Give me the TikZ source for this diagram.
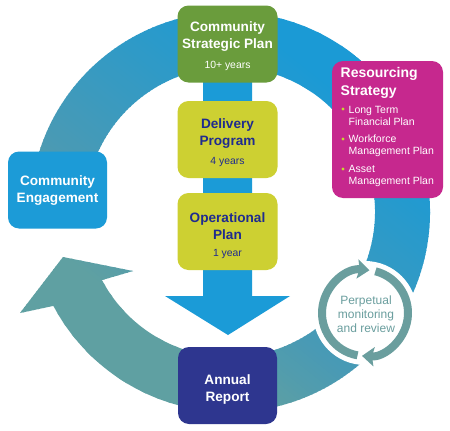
\documentclass[tikz,border=0pt]{standalone}
\usepackage{fontspec}
\setmainfont{Liberation Sans}
\usetikzlibrary{calc,arrows.meta}
\definecolor{ringtop}{HTML}{1B9AD5}
\definecolor{ringmid}{HTML}{4A9AB4}
\definecolor{ringbot}{HTML}{5FA0A2}
\definecolor{arrowblue}{HTML}{1B9BD7}
\definecolor{cspgreen}{HTML}{6A9C3C}
\definecolor{planyellow}{HTML}{CDD032}
\definecolor{navytext}{HTML}{1F2B8F}
\definecolor{ceblue}{HTML}{1C9BD7}
\definecolor{resmag}{HTML}{C6288E}
\definecolor{arnavy}{HTML}{2E368F}
\definecolor{bulletc}{HTML}{C5D82E}
\definecolor{perpteal}{HTML}{6A9E9E}
\begin{document}
\begin{tikzpicture}[x=1pt,y=-1pt,
  box/.style={rounded corners=11pt, minimum width=100pt, minimum height=77pt, inner sep=0pt},
  ttl/.style={inner sep=0pt, align=center, font=\fontsize{13.6}{17}\selectfont\bfseries},
  subtxt/.style={inner sep=0pt, font=\fontsize{10.4}{12}\selectfont},
  item/.style={inner sep=0pt, anchor=west, align=left, text=white, font=\fontsize{10.5}{12}\selectfont},
  bul/.style={circle, fill=bulletc, inner sep=0pt, minimum size=3.4pt},
  perparc/.style={draw=perpteal, line width=8pt, -{Stealth[length=12pt,width=19pt,inset=2pt]}}
]
\useasboundingbox (0,0) rectangle (450,431);
\fill[white] (0,0) rectangle (450,431);
\coordinate (C) at (230,212);
\coordinate (P) at (365,313);

% big cycle ring with arrowhead, shaded from teal (lower left) to blue (upper right)
\begin{scope}
\clip ($(C)+(-170:200)$) arc[start angle=-170,end angle=152,radius=200]
  -- (20,313) -- (63,257) -- (133,271)
  -- ($(C)+(152:145)$) arc[start angle=152,end angle=-170,radius=145] -- cycle;
\foreach \s in {-240,-236,...,240}{
  \pgfmathsetmacro\tA{min(100,max(0,(\s+140)/80*100))}
  \pgfmathsetmacro\tB{min(100,max(0,(\s+60)/220*100))}
  \colorlet{tmpA}{ringmid!\tA!ringbot}
  \colorlet{stripc}{ringtop!\tB!tmpA}
  \pgfmathsetmacro\xa{230+\s*0.62+300*0.78}
  \pgfmathsetmacro\ya{212-\s*0.78+300*0.62}
  \pgfmathsetmacro\xb{230+\s*0.62-300*0.78}
  \pgfmathsetmacro\yb{212-\s*0.78-300*0.62}
  \pgfmathsetmacro\xc{230+(\s+5)*0.62-300*0.78}
  \pgfmathsetmacro\yc{212-(\s+5)*0.78-300*0.62}
  \pgfmathsetmacro\xd{230+(\s+5)*0.62+300*0.78}
  \pgfmathsetmacro\yd{212-(\s+5)*0.78+300*0.62}
  \fill[stripc] (\xa,\ya) -- (\xb,\yb) -- (\xc,\yc) -- (\xd,\yd) -- cycle;
}
\end{scope}

% central down arrow
\fill[arrowblue] (203,75) -- (252,75) -- (252,296) -- (290,296) -- (228,335)
  -- (165,296) -- (203,296) -- cycle;

% boxes
\node[box, fill=cspgreen] (csp) at (227.5,44) {};
\node[ttl, text=white] (csptitle) at (227.5,37) {Community\\Strategic Plan};
\node[subtxt, text=white] (cspsub) at (227.5,66) {10+ years};

\node[box, fill=planyellow] (dp) at (227.5,139.5) {};
\node[ttl, text=navytext] (dptitle) at (227.5,134) {Delivery\\Program};
\node[subtxt, text=navytext] (dpsub) at (227.5,162) {4 years};

\node[box, fill=planyellow] (op) at (227.5,231.5) {};
\node[ttl, text=navytext] (optitle) at (227.5,226.5) {Operational\\Plan};
\node[subtxt, text=navytext] (opsub) at (227.5,254) {1 year};

\node[box, fill=ceblue, minimum width=99pt] (ce) at (57.5,190) {};
\node[ttl, text=white] (cetitle) at (57.5,190.5) {Community\\Engagement};

\node[box, fill=arnavy, minimum width=99pt] (ar) at (227.5,385.5) {};
\node[ttl, text=white] (artitle) at (227.5,389) {Annual\\Report};

\node[box, fill=resmag, minimum width=111pt, minimum height=137pt] (rs) at (387.5,129.5) {};
\node[inner sep=0pt, anchor=west, align=left, text=white,
      font=\fontsize{14}{18}\selectfont\bfseries] (rstitle) at (340.5,83) {Resourcing\\Strategy};
\node[bul] (b1) at (343,109) {};
\node[item] (i1) at (348.5,116) {Long Term\\Financial Plan};
\node[bul] (b2) at (343,139) {};
\node[item] (i2) at (348.5,146) {Workforce\\Management Plan};
\node[bul] (b3) at (343,169) {};
\node[item] (i3) at (348.5,176) {Asset\\Management Plan};

% perpetual monitoring
\fill[white] (P) circle (52);
\draw[perparc] ($(P)+(-260:43)$) arc[start angle=-260,end angle=-84,radius=43];
\draw[perparc] ($(P)+(-76:43)$) arc[start angle=-76,end angle=94,radius=43];
\node[inner sep=0pt, align=center, text=perpteal, font=\fontsize{12}{14}\selectfont]
  (pmtext) at (366,314) {Perpetual\\monitoring\\and review};
\end{tikzpicture}
\end{document}
